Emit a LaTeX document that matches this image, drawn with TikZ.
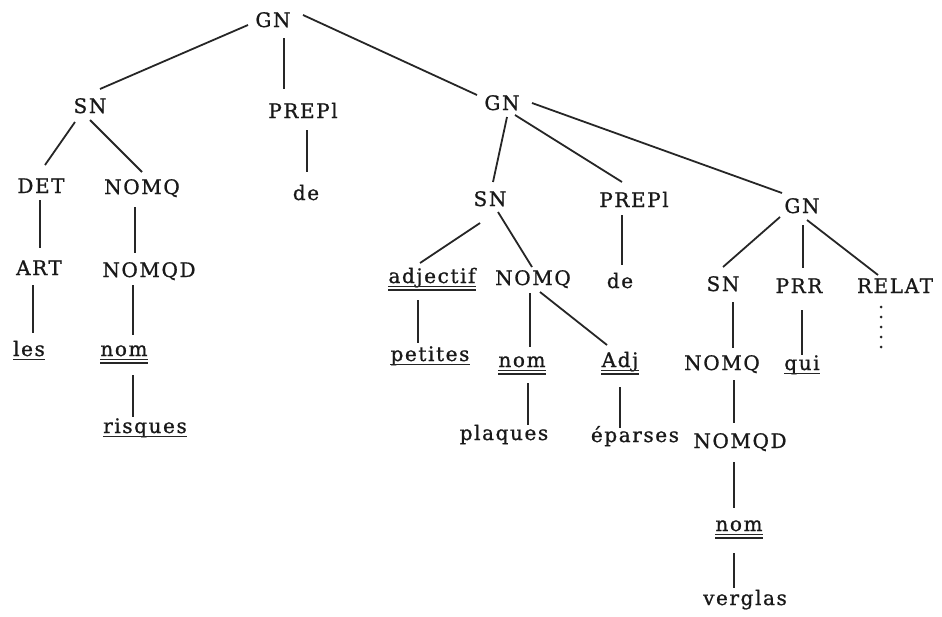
\documentclass[tikz,border=0pt]{standalone}
\usepackage{fontspec}
\setmainfont{DejaVu Serif}[LetterSpace=8,FakeBold=1]
\begin{document}
\begin{tikzpicture}[x=1pt,y=-1pt,
  lab/.style={anchor=base,inner sep=0pt,font=\fontsize{20}{22}\selectfont,text=black!90},
  edge/.style={line width=1.8pt,black!85},
  uline/.style={line width=1.3pt,black!85}]
\useasboundingbox (0,0) rectangle (942,616);
% nodes
\node[lab] (gnA) at (273,27) {GN};
\node[lab] (snA) at (90,113) {SN};
\node[lab] (prepA) at (303,118) {PREPl};
\node[lab] (deA) at (306,200) {de};
\node[lab] (det) at (41,193) {DET};
\node[lab] (nomqA) at (142,194) {NOMQ};
\node[lab] (art) at (39,275) {ART};
\node[lab] (nomqdA) at (149,277) {NOMQD};
\node[lab] (les) at (29,356) {les};
\node[lab] (nomA) at (124,356) {nom};
\node[lab] (risques) at (145,433) {risques};
\node[lab] (gnB) at (502,110) {GN};
\node[lab] (snB) at (490,206) {SN};
\node[lab] (prepB) at (634,207) {PREPl};
\node[lab] (deB) at (620,288) {de};
\node[lab] (gnC) at (802,213) {GN};
\node[lab] (snC) at (723,291) {SN};
\node[lab] (prr) at (799,293) {PRR};
\node[lab] (relat) at (895,293) {RELAT};
\node[lab] (adjectif) at (432,283) {adjectif};
\node[lab] (nomqB) at (533,285) {NOMQ};
\node[lab] (petites) at (430,361) {petites};
\node[lab] (nomB) at (522,367) {nom};
\node[lab] (adj) at (620,367) {Adj};
\node[lab] (nomqC) at (722,370) {NOMQ};
\node[lab] (qui) at (802,370) {qui};
\node[lab] (plaques) at (504,440) {plaques};
\node[lab] (eparses) at (635,442) {éparses};
\node[lab] (nomqdB) at (740,448) {NOMQD};
\node[lab] (nomC) at (739,531) {nom};
\node[lab] (verglas) at (745,605) {verglas};
\coordinate (relatend) at ([shift={(-14,57)}]relat.base);
% underlines
\foreach \n in {les,risques,petites,qui}
  \draw[uline] ([yshift=-3.5pt]\n.base west) -- ([yshift=-3.5pt]\n.base east);
\foreach \n in {nomA,nomB,nomC,adjectif,adj}{
  \draw[uline] ([yshift=-3.5pt]\n.base west) -- ([yshift=-3.5pt]\n.base east);
  \draw[uline] ([yshift=-7pt]\n.base west) -- ([yshift=-7pt]\n.base east);}
% edges
\draw[edge] ([shift={(-25,-2)}]gnA.base) -- ([shift={(10,-24)}]snA.base);
\draw[edge] ([shift={(11,11)}]gnA.base) -- ([shift={(-19,-29)}]prepA.base);
\draw[edge] ([shift={(30,-12)}]gnA.base) -- ([shift={(-25,-15)}]gnB.base);
\draw[edge] ([shift={(-15,9)}]snA.base) -- ([shift={(4,-28)}]det.base);
\draw[edge] ([shift={(0,7)}]snA.base) -- ([shift={(0,-22)}]nomqA.base);
\draw[edge] ([shift={(4,12)}]prepA.base) -- ([shift={(1,-28)}]deA.base);
\draw[edge] ([shift={(-1,7)}]det.base) -- ([shift={(1,-27)}]art.base);
\draw[edge] ([shift={(-7,13)}]nomqA.base) -- ([shift={(-14,-24)}]nomqdA.base);
\draw[edge] ([shift={(-6,10)}]art.base) -- ([shift={(4,-23)}]les.base);
\draw[edge] ([shift={(-16,8)}]nomqdA.base) -- ([shift={(9,-21)}]nomA.base);
\draw[edge] ([shift={(9,19)}]nomA.base) -- ([shift={(-12,-16)}]risques.base);
\draw[edge] ([shift={(5,7)}]gnB.base) -- ([shift={(3,-24)}]snB.base);
\draw[edge] ([shift={(13,5)}]gnB.base) -- ([shift={(-12,-25)}]prepB.base);
\draw[edge] ([shift={(30,-7)}]gnB.base) -- ([shift={(-20,-20)}]gnC.base);
\draw[edge] ([shift={(-10,17)}]snB.base) -- ([shift={(-12,-20)}]adjectif.base);
\draw[edge] ([shift={(8,6)}]snB.base) -- ([shift={(-1,-18)}]nomqB.base);
\draw[edge] ([shift={(-12,8)}]prepB.base) -- ([shift={(2,-23)}]deB.base);
\draw[edge] ([shift={(-22,4)}]gnC.base) -- ([shift={(0,-24)}]snC.base);
\draw[edge] ([shift={(1,12)}]gnC.base) -- ([shift={(4,-25)}]prr.base);
\draw[edge] ([shift={(5,7)}]gnC.base) -- ([shift={(-17,-18)}]relat.base);
\draw[edge] ([shift={(-14,17)}]adjectif.base) -- ([shift={(-12,-18)}]petites.base);
\draw[edge] ([shift={(-3,8)}]nomqB.base) -- ([shift={(8,-20)}]nomB.base);
\draw[edge] ([shift={(7,7)}]nomqB.base) -- ([shift={(-13,-22)}]adj.base);
\draw[edge] ([shift={(6,16)}]nomB.base) -- ([shift={(24,-15)}]plaques.base);
\draw[edge] ([shift={(0,20)}]adj.base) -- ([shift={(-15,-14)}]eparses.base);
\draw[edge] ([shift={(10,11)}]snC.base) -- ([shift={(11,-22)}]nomqC.base);
\draw[edge] ([shift={(12,10)}]nomqC.base) -- ([shift={(-6,-25)}]nomqdB.base);
\draw[edge] ([shift={(-6,14)}]nomqdB.base) -- ([shift={(-5,-23)}]nomC.base);
\draw[edge] ([shift={(-5,22)}]nomC.base) -- ([shift={(-11,-17)}]verglas.base);
\draw[edge] ([shift={(3,17)}]prr.base) -- ([shift={(0,-15)}]qui.base);
\draw[line width=3pt,black!85,line cap=round,dash pattern=on 0pt off 10pt] ([shift={(-14,14)}]relat.base) -- (relatend);
\end{tikzpicture}
\end{document}
